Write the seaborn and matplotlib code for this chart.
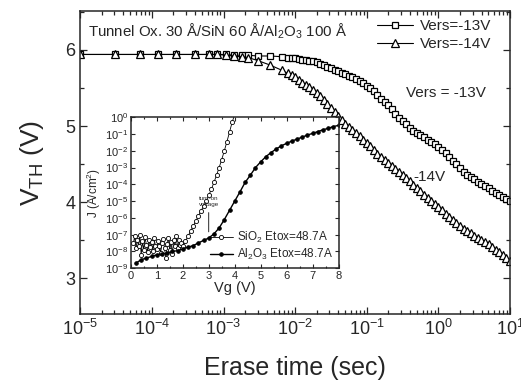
import matplotlib
matplotlib.use("Agg")
import matplotlib.pyplot as plt
import seaborn as sns
from matplotlib.ticker import LogLocator, MultipleLocator, NullFormatter, NullLocator

# erase transient (main plot), shared time points in sec
erase_time = [1e-5, 3.1e-5, 6.9e-5, 1.2e-4, 2.2e-4, 4e-4, 6.2e-4, 8.1e-4, 1.1e-3, 1.4e-3,
              1.8e-3, 2.2e-3, 3e-3, 4.5e-3, 6.6e-3,
              0.0079, 0.0089, 0.010, 0.0112, 0.0126, 0.0141, 0.0158, 0.0178, 0.020, 0.0224,
              0.0251, 0.0282, 0.0316, 0.0355, 0.0398, 0.0447, 0.0501, 0.0562, 0.0631, 0.0708,
              0.0794, 0.0891, 0.100, 0.112, 0.126, 0.141, 0.158, 0.178, 0.200, 0.224,
              0.251, 0.282, 0.316, 0.355, 0.398, 0.447, 0.501, 0.562, 0.631, 0.708,
              0.794, 0.891, 1.00, 1.12, 1.26, 1.41, 1.58, 1.78, 2.00, 2.24,
              2.51, 2.82, 3.16, 3.55, 3.98, 4.47, 5.01, 5.62, 6.31, 7.08,
              7.94, 8.91, 10.0]

vth_13v = [5.94, 5.94, 5.94, 5.94, 5.94, 5.94, 5.94, 5.94, 5.94, 5.93,
           5.93, 5.93, 5.92, 5.92, 5.91,
           5.90, 5.89, 5.89, 5.88, 5.87, 5.865, 5.86, 5.85, 5.835, 5.82,
           5.80, 5.78, 5.76, 5.74, 5.72, 5.70, 5.68, 5.66, 5.64, 5.62,
           5.59, 5.56, 5.53, 5.50, 5.46, 5.41, 5.36, 5.32, 5.27, 5.22,
           5.16, 5.11, 5.06, 5.02, 4.98, 4.94, 4.91, 4.88, 4.85, 4.82,
           4.79, 4.76, 4.72, 4.68, 4.64, 4.59, 4.54, 4.50, 4.45, 4.40,
           4.36, 4.33, 4.30, 4.27, 4.24, 4.21, 4.18, 4.15, 4.12, 4.09,
           4.07, 4.04, 4.01]

vth_14v = [5.94, 5.94, 5.94, 5.94, 5.94, 5.94, 5.94, 5.94, 5.93, 5.92,
           5.91, 5.90, 5.86, 5.80, 5.73,
           5.69, 5.67, 5.64, 5.60, 5.57, 5.54, 5.51, 5.47, 5.43, 5.39,
           5.34, 5.29, 5.24, 5.19, 5.13, 5.08, 5.03, 4.99, 4.95, 4.91,
           4.87, 4.82, 4.78, 4.74, 4.69, 4.63, 4.59, 4.55, 4.51, 4.47,
           4.44, 4.40, 4.36, 4.32, 4.28, 4.23, 4.19, 4.15, 4.10, 4.06,
           4.02, 3.97, 3.93, 3.89, 3.84, 3.80, 3.76, 3.72, 3.69, 3.65,
           3.62, 3.59, 3.56, 3.53, 3.50, 3.47, 3.45, 3.41, 3.37, 3.34,
           3.30, 3.26, 3.22]

# inset J-Vg curves
vg_sio2 = [0.10, 0.15, 0.20, 0.25, 0.30, 0.35, 0.40, 0.45, 0.50, 0.55,
           0.60, 0.65, 0.70, 0.75, 0.80, 0.85, 0.90, 0.95, 1.00, 1.05,
           1.10, 1.15, 1.20, 1.25, 1.30, 1.35, 1.40, 1.45, 1.50, 1.55,
           1.60, 1.65, 1.70, 1.75, 1.80, 1.85, 1.90, 1.95,
           2.0, 2.1, 2.2, 2.3, 2.4, 2.5, 2.6, 2.7, 2.8, 2.9,
           3.0, 3.1, 3.2, 3.3, 3.4, 3.5, 3.6, 3.7, 3.8, 3.9, 4.0]
j_sio2 = [3e-8, 8e-8, 1.5e-8, 5e-8, 2e-8, 1e-7, 6e-9, 4e-8, 1.2e-8, 7e-8,
          2.5e-8, 9e-9, 5e-8, 1.8e-8, 3.5e-8, 1e-8, 6e-8, 2e-8, 1.3e-8, 4e-8,
          2.2e-8, 8e-9, 3e-8, 5.5e-8, 1.5e-8, 4e-9, 2.8e-8, 6e-8, 1.2e-8, 3.5e-8,
          7e-9, 4.5e-8, 2e-8, 8e-8, 1.5e-8, 5e-8, 2.5e-8, 3e-8,
          2e-8, 4e-8, 7.9e-8, 1.6e-7, 3.2e-7, 6.3e-7, 1.3e-6, 2.5e-6, 5e-6, 1e-5,
          2.2e-5, 5e-5, 1.3e-4, 3.5e-4, 1e-3, 3e-3, 1e-2, 3.5e-2, 0.13, 0.5, 1.5]

vg_al2o3 = [0.2, 0.4, 0.6, 0.8, 1.0, 1.2, 1.4, 1.6, 1.8, 2.0,
            2.2, 2.4, 2.6, 2.8, 3.0, 3.2, 3.4, 3.6, 3.8, 4.0,
            4.2, 4.4, 4.6, 4.8, 5.0, 5.2, 5.4, 5.6, 5.8, 6.0,
            6.2, 6.4, 6.6, 6.8, 7.0, 7.2, 7.4, 7.6, 7.8, 8.0]
j_al2o3 = [2.0e-9, 3.2e-9, 4.0e-9, 5.0e-9, 6.3e-9, 7.1e-9, 7.9e-9, 1.0e-8, 1.1e-8, 1.4e-8,
           1.8e-8, 2.2e-8, 3.2e-8, 4.5e-8, 6.3e-8, 1.1e-7, 2.5e-7, 7.9e-7, 2.8e-6, 1e-5,
           3.5e-5, 1.3e-4, 3.5e-4, 1e-3, 2.2e-3, 4.5e-3, 7.9e-3, 1.3e-2, 2e-2, 2.8e-2,
           3.8e-2, 5e-2, 6.6e-2, 8.7e-2, 0.11, 0.14, 0.18, 0.22, 0.28, 0.33]

sns.set_style("ticks")
plt.rcParams["font.family"] = ["Liberation Sans", "DejaVu Sans"]
plt.rcParams["mathtext.fontset"] = "custom"
plt.rcParams["mathtext.rm"] = "Liberation Sans"
plt.rcParams["mathtext.it"] = "Liberation Sans:italic"
plt.rcParams["axes.linewidth"] = 1.1

fig = plt.figure(figsize=(5.21, 3.82), dpi=100)
ax = fig.add_axes([0.154, 0.178, 0.825, 0.793])

sns.lineplot(x=erase_time, y=vth_13v, ax=ax, color="black", lw=0.8, marker="s", ms=5,
             mfc="white", mec="black", mew=0.9, label="Vers=-13V")
sns.lineplot(x=erase_time, y=vth_14v, ax=ax, color="black", lw=0.8, marker="^", ms=5.5,
             mfc="white", mec="black", mew=0.9, label="Vers=-14V")

ax.set_xscale("log")
ax.set_xlim(1e-5, 10)
ax.set_ylim(2.53, 6.51)
ax.xaxis.set_major_locator(LogLocator(base=10, numticks=10))
ax.xaxis.set_minor_locator(LogLocator(base=10, subs=range(2, 10), numticks=20))
ax.xaxis.set_minor_formatter(NullFormatter())
ax.yaxis.set_major_locator(MultipleLocator(1))
ax.yaxis.set_minor_locator(MultipleLocator(0.5))
ax.tick_params(which="both", direction="in", top=True, right=True, labelsize=13, width=0.9)
ax.tick_params(which="major", length=5)
ax.tick_params(which="minor", length=3)
ax.set_xlabel("Erase time (sec)", fontsize=18, labelpad=12)
ax.set_ylabel("V$_{\\rm TH}$ (V)", fontsize=19, labelpad=14)

ax.legend(loc="upper right", bbox_to_anchor=(0.975, 1.0), frameon=False, fontsize=11,
          handlelength=2.4, labelspacing=0.25, borderaxespad=0.15, handletextpad=0.4)
ax.text(1.3e-5, 6.24, "Tunnel Ox. 30 Å/SiN 60 Å/Al$_2$O$_3$ 100 Å", fontsize=10.8, va="center")
ax.text(1.26, 5.43, "Vers = -13V", fontsize=11, ha="center", va="center")
ax.text(0.76, 4.33, "-14V", fontsize=11, ha="center", va="center")

# inset
axi = fig.add_axes([0.251, 0.298, 0.399, 0.395])
axi.set_facecolor("white")
sns.lineplot(x=vg_sio2, y=j_sio2, ax=axi, color="black", lw=0.6, marker="o", ms=3,
             mfc="white", mec="black", mew=0.6, label="SiO$_2$ Etox=48.7A")
sns.lineplot(x=vg_al2o3, y=j_al2o3, ax=axi, color="black", lw=1.0, marker="o", ms=2.5,
             mfc="black", mec="black", label="Al$_2$O$_3$ Etox=48.7A")
axi.set_yscale("log")
axi.set_xlim(0, 8)
axi.set_ylim(1e-9, 1)
axi.set_yticks([1e-9, 1e-8, 1e-7, 1e-6, 1e-5, 1e-4, 1e-3, 1e-2, 1e-1, 1e0])
axi.yaxis.set_minor_locator(NullLocator())
axi.xaxis.set_major_locator(MultipleLocator(1))
axi.xaxis.set_minor_locator(MultipleLocator(0.5))
axi.tick_params(which="both", direction="in", top=True, right=True, labelsize=8,
                width=0.8, pad=2)
axi.tick_params(which="major", length=3)
axi.tick_params(which="minor", length=1.5)
axi.set_xlabel("Vg (V)", fontsize=10.5, labelpad=0)
axi.set_ylabel("J (A/cm$^2$)", fontsize=8.5, labelpad=1)
axi.annotate("turn-on\nvoltage", xy=(3.0, 1e-7), xytext=(3.0, 1e-5), fontsize=4.5,
             ha="center", va="center", arrowprops=dict(arrowstyle="-", lw=0.6, color="black"))
axi.legend(loc="lower right", frameon=False, fontsize=8.5, handlelength=2,
           labelspacing=0.2, borderaxespad=0.1, handletextpad=0.3)

fig.savefig("out.png", dpi=100)
